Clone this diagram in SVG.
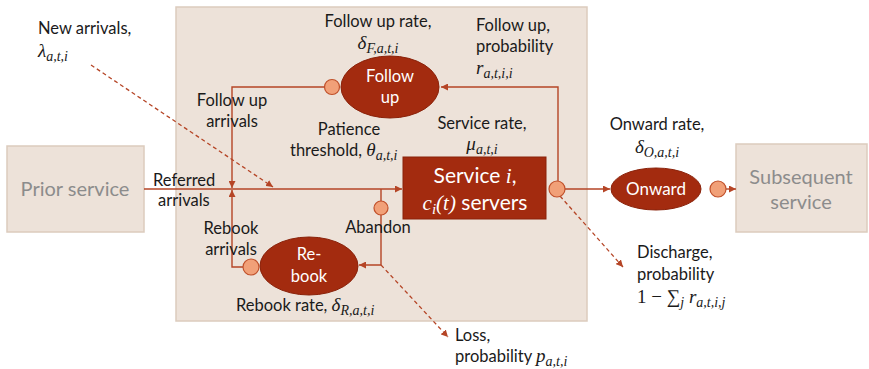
<svg xmlns="http://www.w3.org/2000/svg" width="869" height="369" viewBox="0 0 869 369">
<defs>
<style>
.t{font-family:Lato,"Open Sans","Liberation Sans",sans-serif;font-size:16.5px;fill:#1a1a1a}
.m{font-family:"Liberation Serif","DejaVu Serif",serif;font-style:italic;font-size:19px;fill:#1a1a1a}
.s{font-size:14px}
.w{font-family:Lato,"Open Sans","Liberation Sans",sans-serif;font-size:16.5px;fill:#ffffff}
.g{font-family:Lato,"Open Sans","Liberation Sans",sans-serif;font-size:20px;fill:#8c8c8c}
.box{fill:#ede2d9;stroke:#dccbbd;stroke-width:1.5}
.node{fill:#a32b0f;stroke:#8a220a;stroke-width:1}
.dot{fill:#f1a078;stroke:#c0502a;stroke-width:1.2}
.ln{fill:none;stroke:#b54526;stroke-width:1.4}
.dl{fill:none;stroke:#b54526;stroke-width:1.3;stroke-dasharray:4 3}
</style>
<marker id="ah" viewBox="0 0 10 10" refX="10" refY="5" markerWidth="7" markerHeight="7" markerUnits="userSpaceOnUse" orient="auto">
<path d="M0,0 L10,5 L0,10 z" fill="#b54526"/>
</marker>
</defs>

<g id="container"><rect class="box" x="176" y="7" width="411" height="314"/></g>
<g id="prior"><rect class="box" x="7" y="146" width="137" height="86"/><text class="g" x="75" y="196" text-anchor="middle">Prior service</text></g>
<g id="subsequent"><rect class="box" x="736" y="144" width="131" height="88"/><text class="g" x="801" y="184" text-anchor="middle">Subsequent</text><text class="g" x="801" y="209" text-anchor="middle">service</text></g>

<g id="connectors">
<path class="ln" d="M144,189 H402" marker-end="url(#ah)"/>
<path class="dl" d="M91,65 L273,187" marker-end="url(#ah)"/>
<path class="ln" d="M325,87 H232 V188" marker-end="url(#ah)"/>
<path class="ln" d="M243,267 H232 V190" marker-end="url(#ah)"/>
<path class="ln" d="M558,181 V87 H441" marker-end="url(#ah)"/>
<path class="ln" d="M565,189 H610" marker-end="url(#ah)"/>
<path class="ln" d="M726,189 H736" marker-end="url(#ah)"/>
<path class="ln" d="M381,189 V265 H359" marker-end="url(#ah)"/>
<path class="dl" d="M381,265 L448,337" marker-end="url(#ah)"/>
<path class="dl" d="M560,196 L623,267" marker-end="url(#ah)"/>
</g>

<g id="service"><rect class="node" x="403" y="157" width="143" height="62"/>
<text class="w" x="475" y="183" text-anchor="middle" style="font-size:21px">Service <tspan style="font-family:'Liberation Serif',serif;font-style:italic">i</tspan>,</text>
<text class="w" x="475" y="210" text-anchor="middle" style="font-size:21px"><tspan style="font-family:'Liberation Serif',serif;font-style:italic">c<tspan dy="4" style="font-size:15px">i</tspan><tspan dy="-4">(t)</tspan></tspan> servers</text>
</g>
<g id="followup"><ellipse class="node" cx="390" cy="87" rx="49" ry="31"/><circle class="dot" cx="332" cy="87" r="7.5"/>
<text class="w" x="390" y="82" text-anchor="middle">Follow</text><text class="w" x="390" y="103" text-anchor="middle">up</text></g>
<g id="rebook"><ellipse class="node" cx="309" cy="266" rx="49" ry="29"/><circle class="dot" cx="251" cy="267" r="8"/>
<text class="w" x="309" y="260" text-anchor="middle">Re-</text><text class="w" x="309" y="282" text-anchor="middle">book</text></g>
<g id="onward"><ellipse class="node" cx="656" cy="189" rx="45" ry="21"/><circle class="dot" cx="718" cy="189" r="8"/>
<text class="w" x="656" y="195" text-anchor="middle" style="font-size:17px">Onward</text></g>
<g id="split"><circle class="dot" cx="557" cy="189" r="8"/></g>
<g id="abandon"><circle class="dot" cx="381" cy="208" r="7"/></g>

<g id="labels">
<text class="t" x="38" y="34">New arrivals,</text>
<text class="m" x="38" y="57">λ<tspan class="s" dy="4">a,t,i</tspan></text>
<text class="t" x="378" y="27" text-anchor="middle">Follow up rate,</text>
<text class="m" x="378" y="49" text-anchor="middle">δ<tspan class="s" dy="4">F,a,t,i</tspan></text>
<text class="t" x="476" y="31">Follow up,</text>
<text class="t" x="476" y="52">probability</text>
<text class="m" x="476" y="74">r<tspan class="s" dy="4">a,t,i,i</tspan></text>
<text class="t" x="232" y="106" text-anchor="middle">Follow up</text>
<text class="t" x="232" y="127" text-anchor="middle">arrivals</text>
<text class="t" x="349" y="135" text-anchor="middle">Patience</text>
<text class="t" x="290" y="156">threshold, <tspan class="m">θ<tspan class="s" dy="4">a,t,i</tspan></tspan></text>
<text class="t" x="482" y="129" text-anchor="middle">Service rate,</text>
<text class="m" x="482" y="150" text-anchor="middle">μ<tspan class="s" dy="4">a,t,i</tspan></text>
<text class="t" x="153" y="186">Referred</text>
<text class="t" x="158" y="206">arrivals</text>
<text class="t" x="231" y="234" text-anchor="middle">Rebook</text>
<text class="t" x="231" y="255" text-anchor="middle">arrivals</text>
<text class="t" x="378" y="233" text-anchor="middle">Abandon</text>
<text class="t" x="236" y="311">Rebook rate, <tspan class="m">δ<tspan class="s" dy="4">R,a,t,i</tspan></tspan></text>
<text class="t" x="455" y="341">Loss,</text>
<text class="t" x="455" y="362">probability <tspan class="m">p<tspan class="s" dy="4">a,t,i</tspan></tspan></text>
<text class="t" x="657" y="130" text-anchor="middle">Onward rate,</text>
<text class="m" x="657" y="153" text-anchor="middle">δ<tspan class="s" dy="4">O,a,t,i</tspan></text>
<text class="t" x="637" y="258">Discharge,</text>
<text class="t" x="637" y="280">probability</text>
<text class="m" x="637" y="303" style="font-style:normal">1 − ∑<tspan class="s" dy="4" style="font-style:italic">j</tspan><tspan dy="-4" style="font-style:italic"> r</tspan><tspan class="s" dy="4" style="font-style:italic">a,t,i,j</tspan></text>
</g>
</svg>
